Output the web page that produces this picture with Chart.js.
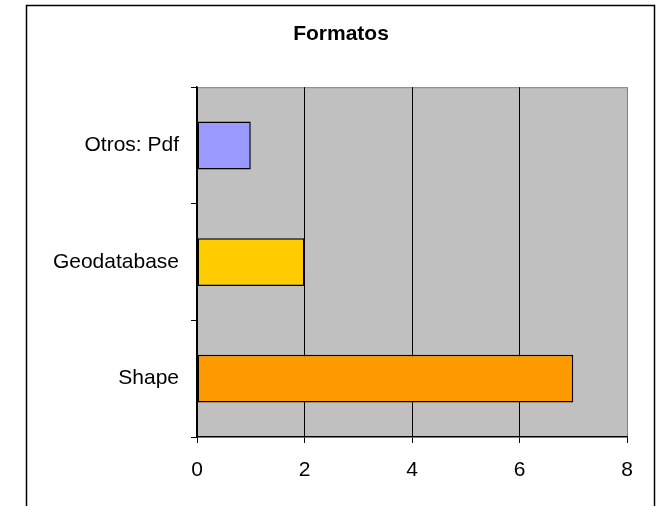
<!DOCTYPE html>
<html>
<head>
<meta charset="utf-8">
<script src="https://cdn.jsdelivr.net/npm/chart.js@4/dist/chart.umd.min.js"></script>
<style>
  html, body { margin: 0; padding: 0; background: #fff; }
  #wrap { width: 662px; height: 506px; }
</style>
</head>
<body>
<div id="wrap"><canvas id="formatosChart" width="662" height="506"></canvas></div>
<script>
// Data
const categories = ["Otros: Pdf", "Geodatabase", "Shape"];
const counts = [1, 2, 7];
const barColors = ["#9999FF", "#FFCC00", "#FF9900"];
const xTicks = [0, 2, 4, 6, 8];

const FONT = "'Liberation Sans', Arial, sans-serif";

// gray plot area + outer frame, like the old spreadsheet chart
const frameBackground = {
  id: "frameBackground",
  beforeDraw(chart) {
    const { ctx, chartArea } = chart;
    ctx.save();
    ctx.fillStyle = "#fff";
    ctx.fillRect(0, 0, chart.width, chart.height);
    // outer border (bottom edge falls outside the picture)
    ctx.strokeStyle = "#000";
    ctx.lineWidth = 1.5;
    ctx.strokeRect(26.5, 5.5, 628, 520);
    // plot area
    ctx.fillStyle = "#C0C0C0";
    ctx.fillRect(chartArea.left, chartArea.top, chartArea.right - chartArea.left, chartArea.bottom - chartArea.top);
    ctx.strokeStyle = "#808080";
    ctx.lineWidth = 1;
    ctx.beginPath();
    ctx.moveTo(chartArea.left, chartArea.top + 0.5);
    ctx.lineTo(chartArea.right, chartArea.top + 0.5);
    ctx.stroke();
    ctx.restore();
  },
};

const ctx = document.getElementById("formatosChart").getContext("2d");

const formatosChart = new Chart(ctx, {
  type: "bar",
  data: {
    labels: categories,
    datasets: [
      {
        data: counts,
        backgroundColor: barColors,
        borderColor: "#000",
        borderWidth: 1.5,
        borderSkipped: false,
        barPercentage: 0.41,
        categoryPercentage: 1,
      },
    ],
  },
  options: {
    indexAxis: "y",
    responsive: false,
    animation: false,
    devicePixelRatio: 1,
    layout: { padding: { left: 27, right: 7, top: 0, bottom: 0 } },
    scales: {
      x: {
        min: xTicks[0],
        max: xTicks[xTicks.length - 1],
        afterBuildTicks: (scale) => {
          scale.ticks = xTicks.map((v) => ({ value: v }));
        },
        afterFit: (scale) => {
          scale.height = 69;
        },
        grid: {
          color: (c) => (c.tick && c.tick.value === 8 ? "#808080" : "#000"),
          tickColor: "#000",
          tickLength: 6,
          lineWidth: 1,
        },
        border: { color: "#000", width: 1.5 },
        ticks: {
          color: "#000",
          font: { family: FONT, size: 21 },
          padding: 15,
          maxRotation: 0,
        },
      },
      y: {
        afterFit: (scale) => {
          scale.width = 170; // plot left edge at x=197
        },
        grid: {
          offset: true,
          drawOnChartArea: false,
          color: "#000",
          tickLength: 6,
        },
        border: { color: "#000", width: 1.5 },
        ticks: {
          color: "#000",
          font: { family: FONT, size: 21 },
          padding: 12,
        },
      },
      // empty spacer on the right so the plot ends at x=627
      yRight: {
        type: "category",
        position: "right",
        display: true,
        grid: { display: false },
        border: { display: false },
        ticks: { display: false },
        afterFit: (scale) => {
          scale.width = 28;
        },
      },
    },
    plugins: {
      legend: { display: false },
      tooltip: { enabled: false },
      title: {
        display: true,
        text: "Formatos",
        color: "#000",
        font: { family: FONT, size: 21, weight: "bold" },
        padding: { top: 22, bottom: 40 },
      },
    },
  },
  plugins: [frameBackground],
});
</script>
</body>
</html>
